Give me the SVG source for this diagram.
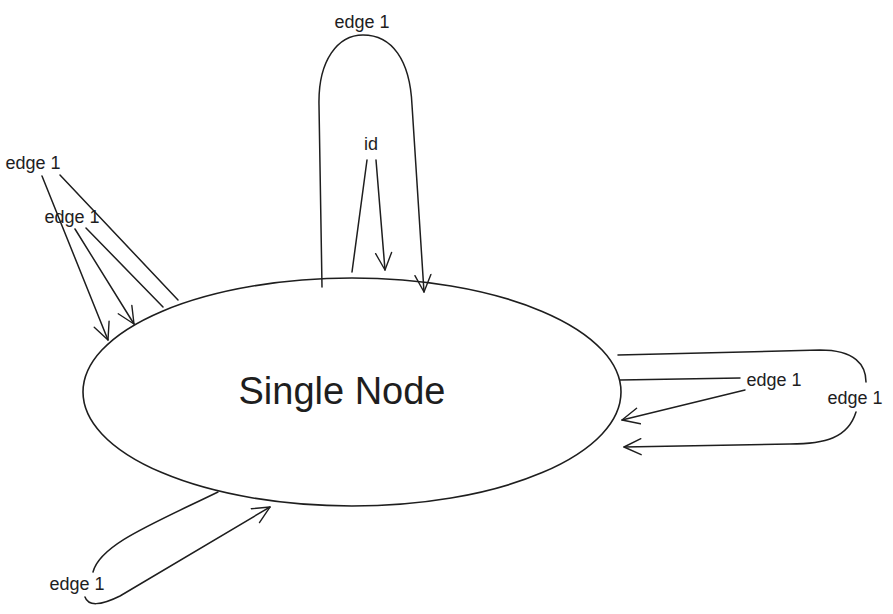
<svg xmlns="http://www.w3.org/2000/svg" width="893" height="614" viewBox="0 0 893 614">
<defs>
<marker id="arr" viewBox="0 0 20 20" refX="18" refY="10" markerWidth="20" markerHeight="20" markerUnits="userSpaceOnUse" orient="auto">
<path d="M1,2 L18,10 L1,18" fill="none" stroke="#1e1e1e" stroke-width="1.4" stroke-linecap="round" stroke-linejoin="round"/>
</marker>
<style>
.e{fill:none;stroke:#1e1e1e;stroke-width:1.5;stroke-linecap:round;stroke-linejoin:round}
.l{font-family:"Liberation Sans",Arial,sans-serif;font-size:18px;fill:#1e1e1e;text-anchor:middle}
.n{font-family:"Liberation Sans",Arial,sans-serif;font-size:38px;fill:#1e1e1e;text-anchor:middle}
</style>
</defs>
<rect width="893" height="614" fill="#ffffff"/>
<g id="node-single">
<ellipse cx="352" cy="392" rx="269" ry="114" fill="#ffffff" stroke="#1e1e1e" stroke-width="1.6"/>
<text class="n" x="342" y="404">Single Node</text>
</g>
<g id="connectors">
<path class="e" d="M322,287 L319,105 C318,60 338,35 363,35 C392,35 410,60 412,105 L424,292" marker-end="url(#arr)"/>
<text class="l" x="362" y="28">edge 1</text>
<path class="e" d="M352,272 L367,160"/>
<path class="e" d="M376,160 L385,270" marker-end="url(#arr)"/>
<text class="l" x="371" y="150" font-size="22">id</text>
<path class="e" d="M42,176 L108,340" marker-end="url(#arr)"/>
<path class="e" d="M60,175 L178,300"/>
<text class="l" x="33" y="169">edge 1</text>
<path class="e" d="M75,229 L134,324" marker-end="url(#arr)"/>
<path class="e" d="M86,228 L163,307"/>
<text class="l" x="72" y="223">edge 1</text>
<path class="e" d="M618,355 L820,350 C855,350 866,365 866,382"/>
<path class="e" d="M856,412 C848,438 825,444 790,444 L624,447" marker-end="url(#arr)"/>
<text class="l" x="855" y="404">edge 1</text>
<path class="e" d="M620,380 L740,378"/>
<path class="e" d="M745,390 L622,420" marker-end="url(#arr)"/>
<text class="l" x="774" y="386">edge 1</text>
<path class="e" d="M218,492 C150,525 100,545 93,572"/>
<path class="e" d="M85,597 C88,606 100,606 120,596 L270,507" marker-end="url(#arr)"/>
<text class="l" x="77" y="590">edge 1</text>
</g>
</svg>
